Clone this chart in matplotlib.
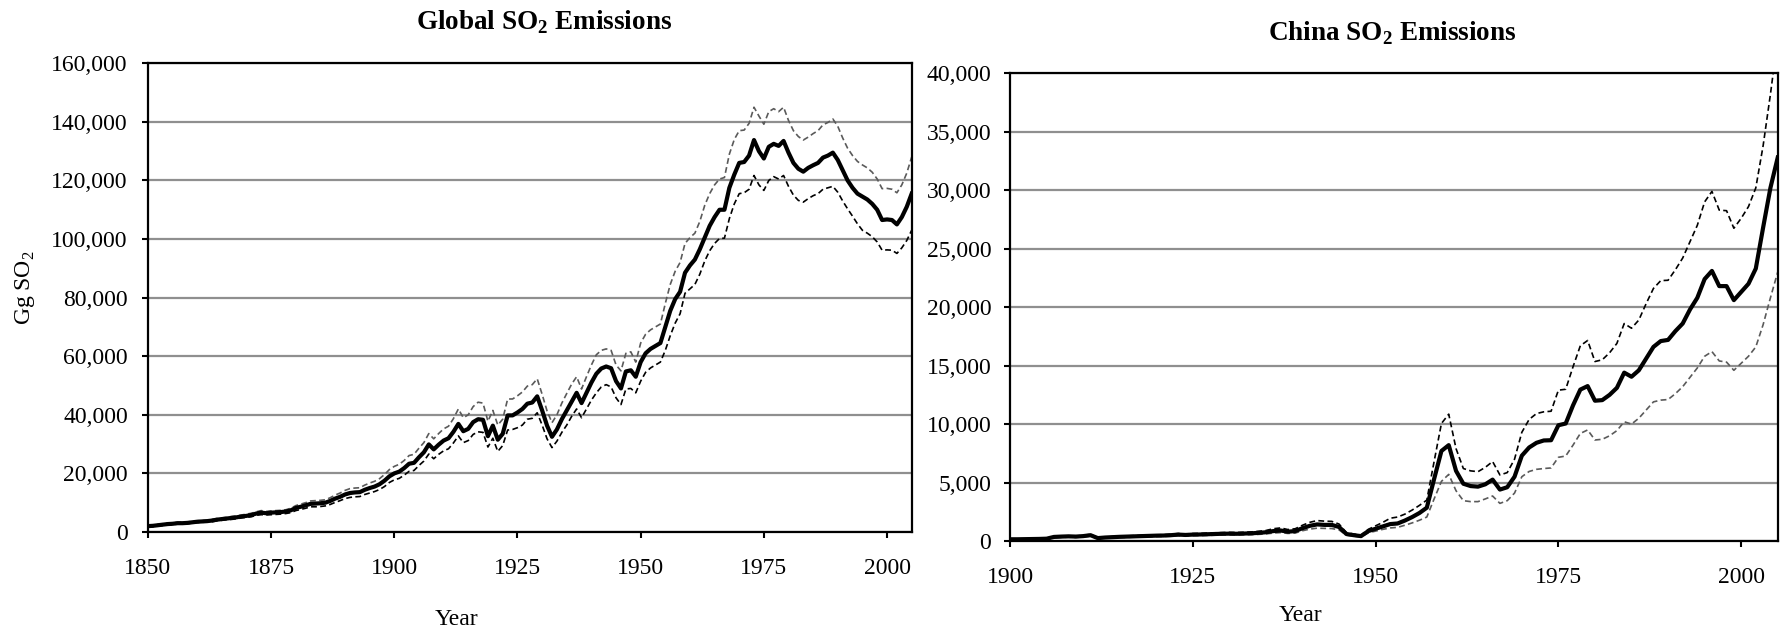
import matplotlib
matplotlib.use("Agg")
import matplotlib.pyplot as plt
from matplotlib.ticker import FuncFormatter, MultipleLocator
import numpy as np

plt.rcParams['font.family'] = ['Liberation Serif', 'DejaVu Serif']
plt.rcParams['mathtext.fontset'] = 'custom'
plt.rcParams['mathtext.rm'] = 'Liberation Serif'
plt.rcParams['mathtext.bf'] = 'Liberation Serif:bold'

# global emissions, thousand Gg SO2, 1850-2005
global_years = np.arange(1850, 2006)
global_central = [
    2.0, 2.1, 2.3, 2.5, 2.7, 2.8, 3.0, 3.0, 3.1, 3.3,
    3.5, 3.6, 3.7, 3.9, 4.2, 4.4, 4.6, 4.8, 5.0, 5.3,
    5.5, 5.8, 6.3, 6.6, 6.4, 6.6, 6.7, 6.8, 7.0, 7.4,
    8.2, 8.6, 9.1, 9.6, 9.7, 9.8, 10.0, 10.6, 11.4, 12.0,
    12.8, 13.3, 13.5, 13.6, 14.4, 15.0, 15.5, 16.3, 17.5, 19.0,
    20.0, 20.6, 21.8, 23.3, 23.6, 25.5, 27.2, 29.9, 28.2, 29.8,
    31.2, 32.0, 34.2, 36.9, 34.4, 35.2, 37.5, 38.5, 38.3, 32.7,
    36.3, 31.5, 33.5, 39.8, 39.8, 40.8, 42.0, 43.8, 44.2, 46.3,
    41.5, 36.3, 32.5, 35.0, 38.5, 41.5, 44.5, 47.5, 44.0, 47.5,
    51.0, 54.0, 55.8, 56.5, 55.9, 51.5, 49.0, 54.8, 55.2, 53.0,
    58.0, 61.0, 62.5, 63.5, 64.5, 70.0, 75.5, 79.5, 82.0, 88.5,
    91.0, 93.0, 96.5, 100.5, 104.5, 107.5, 110.0, 110.0, 117.5, 122.0,
    126.0, 126.3, 128.5, 133.8, 130.0, 127.5, 131.5, 132.5, 131.8, 133.5,
    129.5, 126.0, 124.0, 123.0, 124.3, 125.2, 126.0, 127.8, 128.5, 129.5,
    127.0, 123.5, 120.0, 117.5, 115.5, 114.5, 113.5, 112.0, 110.0, 106.5,
    106.7, 106.5, 105.0, 107.5, 111.0, 115.5,
]
global_upper = [
    2.3, 2.4, 2.6, 2.8, 3.0, 3.1, 3.3, 3.3, 3.4, 3.6,
    3.8, 3.9, 4.0, 4.3, 4.6, 4.8, 5.0, 5.3, 5.5, 5.8,
    6.1, 6.4, 6.9, 7.3, 7.0, 7.2, 7.3, 7.4, 7.6, 8.1,
    9.0, 9.5, 10.0, 10.6, 10.7, 10.8, 11.0, 11.7, 12.6, 13.3,
    14.2, 14.8, 15.0, 15.1, 16.0, 16.7, 17.3, 18.2, 19.6, 21.3,
    22.4, 23.1, 24.4, 26.1, 26.5, 28.6, 30.5, 33.6, 31.8, 33.6,
    35.2, 36.1, 38.7, 42.0, 39.0, 40.0, 42.8, 44.3, 44.0, 37.8,
    41.5, 36.5, 38.5, 45.4, 45.4, 46.5, 47.8, 49.8, 50.3, 52.3,
    47.0, 41.3, 37.3, 40.0, 44.0, 47.3, 50.5, 53.0, 48.8, 53.0,
    57.0, 60.5, 62.0, 62.5, 62.0, 57.0, 55.0, 61.0, 61.5, 58.0,
    64.5, 67.5, 69.0, 70.0, 71.0, 78.0, 84.5, 89.0, 92.0, 98.5,
    100.5, 102.0, 106.0, 111.5, 115.5, 118.5, 120.5, 121.0, 129.0, 134.0,
    137.0, 137.2, 139.5, 145.0, 142.0, 139.2, 143.5, 144.5, 143.5, 145.0,
    140.5, 137.0, 135.0, 133.8, 134.8, 136.0, 137.0, 139.0, 139.8, 141.0,
    138.5, 134.5, 131.0, 128.5, 126.5, 125.3, 124.3, 122.8, 120.5, 117.2,
    117.3, 117.0, 115.8, 118.5, 122.5, 128.0,
]
global_lower = [
    1.7, 1.8, 2.0, 2.2, 2.4, 2.5, 2.7, 2.7, 2.8, 3.0,
    3.2, 3.3, 3.4, 3.5, 3.8, 4.0, 4.2, 4.3, 4.5, 4.8,
    5.0, 5.2, 5.7, 5.9, 5.8, 5.9, 6.0, 6.1, 6.3, 6.6,
    7.3, 7.7, 8.1, 8.6, 8.6, 8.7, 8.9, 9.4, 10.1, 10.7,
    11.4, 11.8, 12.0, 12.1, 12.8, 13.3, 13.8, 14.5, 15.5, 16.9,
    17.8, 18.3, 19.4, 20.7, 21.0, 22.7, 24.2, 26.6, 25.0, 26.5,
    27.7, 28.4, 30.4, 32.8, 30.5, 31.2, 33.3, 34.2, 34.0, 29.0,
    32.0, 27.5, 29.5, 34.8, 35.0, 35.6, 36.5, 38.5, 38.8, 40.7,
    36.5, 31.8, 28.8, 31.0, 34.0, 36.5, 39.5, 42.0, 39.0, 42.0,
    45.0, 47.5, 49.5, 50.3, 49.5, 45.8, 43.5, 48.8, 49.0, 47.5,
    51.5, 54.5, 56.0, 57.0, 58.0, 62.0, 67.0, 71.3, 74.5, 81.5,
    83.0, 84.5, 88.0, 92.5, 96.0, 98.5, 100.2, 100.3, 107.0, 112.0,
    115.5, 115.8, 117.0, 121.7, 118.5, 116.6, 120.0, 121.3, 120.5, 121.7,
    118.0, 115.0, 113.2, 112.6, 113.8, 114.8, 115.5, 117.0, 117.5, 118.0,
    116.0, 113.0, 110.3, 107.8, 105.2, 103.0, 102.0, 100.8, 99.0, 96.2,
    96.3, 96.2, 95.1, 97.0, 99.5, 103.0,
]

# China emissions, thousand Gg SO2, 1900-2005
china_years = np.arange(1900, 2006)
china_central = [
    0.15, 0.15, 0.16, 0.17, 0.18, 0.20, 0.35, 0.38, 0.40, 0.38,
    0.42, 0.50, 0.25, 0.30, 0.33, 0.36, 0.38, 0.40, 0.42, 0.44,
    0.46, 0.47, 0.50, 0.55, 0.52, 0.55, 0.56, 0.58, 0.60, 0.62,
    0.63, 0.62, 0.64, 0.66, 0.70, 0.75, 0.85, 0.90, 0.80, 0.85,
    1.10, 1.30, 1.42, 1.38, 1.38, 1.20, 0.60, 0.50, 0.42, 0.85,
    1.05, 1.25, 1.45, 1.50, 1.75, 2.05, 2.40, 2.85, 5.30, 7.70,
    8.20, 6.00, 4.90, 4.70, 4.65, 4.85, 5.25, 4.40, 4.60, 5.50,
    7.30, 8.00, 8.40, 8.60, 8.62, 9.90, 10.05, 11.60, 12.95, 13.25,
    12.00, 12.05, 12.50, 13.10, 14.40, 14.05, 14.60, 15.60, 16.60, 17.10,
    17.20, 17.95, 18.60, 19.80, 20.80, 22.40, 23.10, 21.80, 21.80, 20.60,
    21.30, 22.00, 23.30, 26.80, 30.20, 32.80,
]
china_upper = [
    0.18, 0.18, 0.19, 0.20, 0.21, 0.23, 0.40, 0.43, 0.45, 0.43,
    0.48, 0.57, 0.29, 0.34, 0.38, 0.41, 0.44, 0.46, 0.48, 0.51,
    0.53, 0.54, 0.58, 0.64, 0.60, 0.64, 0.65, 0.68, 0.70, 0.72,
    0.74, 0.73, 0.75, 0.78, 0.83, 0.90, 1.05, 1.12, 0.98, 1.05,
    1.35, 1.60, 1.75, 1.70, 1.68, 1.45, 0.72, 0.60, 0.50, 1.00,
    1.30, 1.60, 1.95, 2.05, 2.30, 2.65, 3.05, 3.50, 6.80, 10.05,
    10.85, 7.90, 6.20, 6.00, 5.93, 6.30, 6.80, 5.65, 5.85, 7.00,
    9.30, 10.40, 10.90, 11.05, 11.10, 12.90, 12.98, 14.90, 16.70, 17.15,
    15.35, 15.50, 16.10, 16.90, 18.60, 18.20, 18.90, 20.30, 21.60, 22.27,
    22.30, 23.20, 24.20, 25.60, 27.00, 29.00, 29.90, 28.30, 28.25, 26.75,
    27.60, 28.60, 30.20, 33.80, 38.20, 43.00,
]
china_lower = [
    0.12, 0.12, 0.13, 0.14, 0.15, 0.16, 0.29, 0.31, 0.33, 0.31,
    0.35, 0.42, 0.21, 0.25, 0.27, 0.30, 0.31, 0.33, 0.35, 0.36,
    0.38, 0.39, 0.41, 0.45, 0.43, 0.45, 0.46, 0.48, 0.50, 0.51,
    0.52, 0.51, 0.53, 0.54, 0.57, 0.61, 0.68, 0.72, 0.65, 0.68,
    0.88, 1.02, 1.10, 1.08, 1.07, 0.95, 0.50, 0.42, 0.35, 0.70,
    0.85, 1.00, 1.12, 1.17, 1.35, 1.55, 1.78, 2.05, 3.60, 5.10,
    5.70, 4.30, 3.45, 3.37, 3.37, 3.60, 3.85, 3.22, 3.45, 4.10,
    5.50, 5.95, 6.13, 6.20, 6.25, 7.16, 7.27, 8.20, 9.20, 9.50,
    8.64, 8.70, 9.00, 9.44, 10.20, 10.00, 10.50, 11.20, 11.90, 12.05,
    12.10, 12.60, 13.20, 14.00, 14.80, 15.80, 16.20, 15.40, 15.30, 14.60,
    15.20, 15.80, 16.60, 18.50, 20.80, 23.00,
]

GRID = '#8f8f8f'
GRAY_DASH = '#5a5a5a'
DASH = (3.5, 2.0)

fig = plt.figure(figsize=(17.89, 6.33), dpi=100)
ax1 = fig.add_axes([0.0827, 0.1596, 0.5096 - 0.0827, 0.9 - 0.1596])
ax2 = fig.add_axes([0.5646, 0.1453, 0.9937 - 0.5646, 0.8842 - 0.1453])

thousands = FuncFormatter(lambda v, p: f'{int(v):,}')


def style_axes(ax, ystep, ytop, xstart, ypad):
    ax.set_axisbelow(True)
    ax.yaxis.set_major_locator(MultipleLocator(ystep))
    ax.yaxis.set_major_formatter(thousands)
    ax.xaxis.set_major_locator(MultipleLocator(25))
    ax.set_ylim(0, ytop)
    ax.set_xlim(xstart, 2005)
    ax.grid(axis='y', color=GRID, linewidth=1.6)
    for s in ax.spines.values():
        s.set_linewidth(1.6)
        s.set_color('black')
    ax.tick_params(axis='both', direction='out', length=4.5, width=1.5,
                   labelsize=17, colors='black')
    ax.tick_params(axis='y', pad=ypad)
    ax.tick_params(axis='x', pad=14)


# global panel
g = lambda a: np.array(a) * 1000
ax1.plot(global_years, g(global_upper), color=GRAY_DASH, lw=1.2, dashes=DASH)
ax1.plot(global_years, g(global_lower), color='black', lw=1.2, dashes=DASH)
ax1.plot(global_years, g(global_central), color='black', lw=3.0)
style_axes(ax1, 20000, 160000, 1850, 10)

# China panel
ax2.plot(china_years, g(china_upper), color='black', lw=1.2, dashes=DASH)
ax2.plot(china_years, g(china_lower), color=GRAY_DASH, lw=1.2, dashes=DASH)
ax2.plot(china_years, g(china_central), color='black', lw=3.0)
style_axes(ax2, 5000, 40000, 1900, 9)

fig.text(0.304, 0.965, r'Global SO$_\mathbf{2}$ Emissions', ha='center',
         va='center', fontsize=19.5, fontweight='bold')
fig.text(0.778, 0.948, r'China SO$_\mathbf{2}$ Emissions', ha='center',
         va='center', fontsize=19.5, fontweight='bold')
fig.text(0.014, 0.545, r'Gg SO$_\mathrm{2}$', rotation=90, ha='center',
         va='center', fontsize=17)
fig.text(0.255, 0.022, 'Year', ha='center', va='center', fontsize=17)
fig.text(0.727, 0.027, 'Year', ha='center', va='center', fontsize=17)

fig.savefig('out.png', dpi=100)
